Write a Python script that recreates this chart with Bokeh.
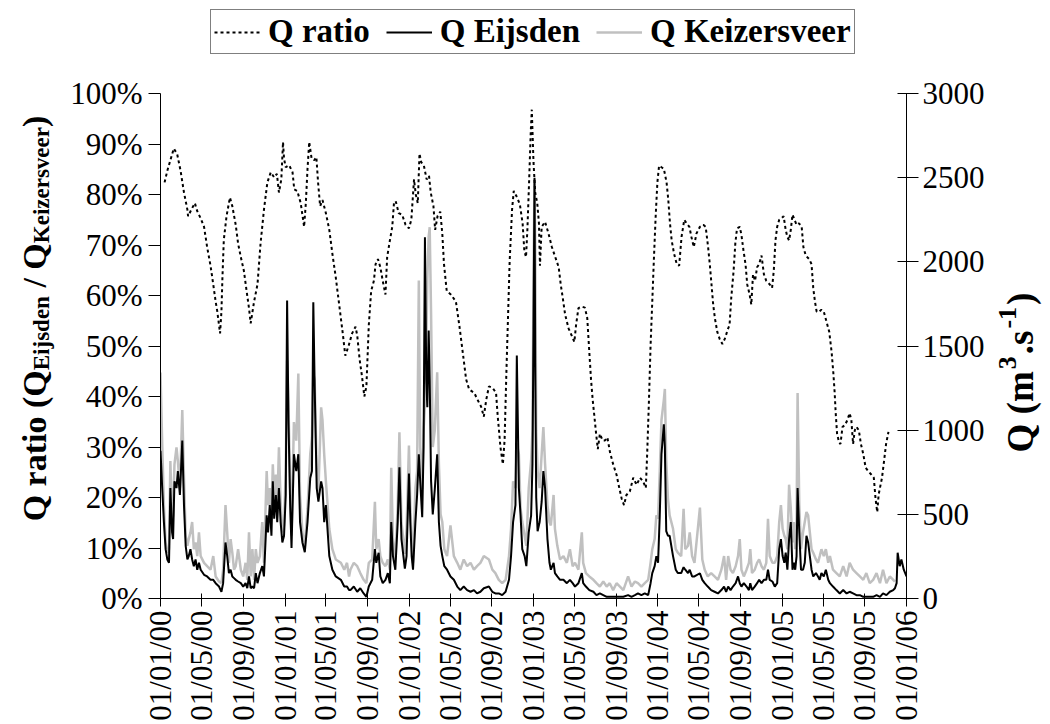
import math
import pandas as pd
from bokeh.plotting import figure
from bokeh.layouts import column, row
from bokeh.models import (Range1d, LinearAxis, FixedTicker, PrintfTickFormatter,
                          Label, Legend, LegendItem)
from bokeh.embed import file_html
from bokeh.resources import INLINE

# ---------------------------------------------------------------- data
# days counted from 01/01/2000
flow_day = [
    0, 5, 10, 15, 20, 25, 29, 34, 37, 41, 47, 51, 57, 64, 69, 74, 79, 83, 88, 93,
    98, 103, 108, 113, 118, 128, 137, 147, 155, 162, 172, 179, 184, 191, 196, 201,
    206, 211, 216, 221, 228, 236, 243, 250, 255, 260, 265, 270, 275, 280, 285, 292,
    299, 304, 312, 316, 321, 326, 330, 334, 339, 343, 348, 353, 358, 363, 368, 372,
    376, 381, 385, 392, 399, 405, 410, 417, 424, 432, 440, 445, 449, 453, 459, 464,
    472, 476, 481, 486, 496, 505, 515, 530, 540, 548, 554, 558, 568, 578, 587, 597,
    605, 612, 622, 630, 634, 641, 646, 653, 661, 668, 674, 678, 683, 690, 697, 702,
    708, 718, 723, 730, 734, 738, 742, 749, 754, 759, 763, 769, 773, 777, 781, 784,
    788, 791, 795, 800, 806, 813, 818, 823, 828, 834, 842, 852, 862, 872, 881, 891,
    901, 911, 921, 930, 940, 950, 965, 975, 984, 994, 1004, 1014, 1024, 1030, 1036,
    1043, 1047, 1053, 1058, 1063, 1070, 1075, 1082, 1089, 1093, 1096, 1099, 1101,
    1104, 1108, 1114, 1120, 1125, 1130, 1137, 1143, 1147, 1155, 1159, 1166, 1174,
    1184, 1194, 1203, 1211, 1218, 1228, 1238, 1242, 1250, 1260, 1272, 1281, 1291,
    1301, 1311, 1320, 1330, 1340, 1350, 1360, 1374, 1384, 1394, 1403, 1413, 1423,
    1433, 1440, 1445, 1452, 1457, 1462, 1467, 1472, 1479, 1482, 1486, 1491, 1496,
    1506, 1514, 1520, 1530, 1537, 1542, 1550, 1555, 1562, 1569, 1585, 1592, 1599,
    1608, 1618, 1628, 1638, 1648, 1656, 1662, 1668, 1675, 1682, 1690, 1697, 1702,
    1707, 1714, 1722, 1729, 1733, 1738, 1746, 1753, 1759, 1766, 1773, 1780, 1785,
    1790, 1798, 1805, 1812, 1818, 1823, 1828, 1833, 1837, 1842, 1847, 1852, 1857,
    1861, 1865, 1869, 1872, 1877, 1882, 1888, 1893, 1898, 1903, 1908, 1913, 1918,
    1926, 1932, 1937, 1942, 1949, 1955, 1962, 1967, 1976, 1986, 1996, 2006, 2016,
    2025, 2035, 2045, 2055, 2065, 2074, 2084, 2094, 2104, 2114, 2123, 2133, 2143,
    2153, 2158, 2163, 2166, 2172, 2177, 2184, 2192,
]

# discharge at Eijsden (m3/s)
q_eijsden = [
    877, 656, 454, 293, 232, 212, 656, 393, 353, 696, 656, 757, 615, 938, 555, 313, 232, 252, 293, 232,
    192, 232, 171, 212, 171, 141, 131, 111, 111, 91, 71, 40, 91, 333, 252, 151,
    171, 131, 121, 111, 101, 91, 71, 91, 61, 131, 61, 71, 61, 151, 91, 151,
    192, 131, 494, 393, 555, 373, 696, 474, 615, 454, 656, 454, 333, 373, 615, 1770,
    1059, 555, 300, 857, 757, 857, 454, 333, 275, 454, 716, 757, 1760, 1261, 656, 575,
    696, 656, 454, 555, 252, 171, 131, 111, 71, 71, 50, 50, 71, 40, 61, 30,
    10, 71, 111, 293, 212, 272, 131, 91, 111, 151, 91, 454, 252, 171, 454, 780,
    353, 178, 252, 742, 454, 252, 171, 454, 615, 857, 700, 483, 900, 2146, 1300, 1136,
    1592, 1300, 700, 500, 650, 857, 454, 313, 252, 192, 171, 131, 111, 71, 50, 71,
    50, 40, 50, 30, 40, 61, 71, 40, 30, 30, 20, 40, 111, 252, 454,
    555, 1443, 656, 494, 293, 252, 192, 393, 494, 800, 1600, 2500, 1400,
    600, 400, 454, 575, 757, 656, 353, 212, 171, 212, 151, 131, 111,
    111, 91, 111, 91, 71, 91, 151, 91, 71, 50, 40, 20, 30,
    20, 10, 10, 10, 10, 10, 10, 20, 10, 20, 30, 20, 30,
    20, 91, 151, 192, 252, 212, 494, 857, 1035, 900, 400, 373, 373,
    252, 171, 151, 151, 186, 171, 151, 171, 131, 131, 150, 111, 91,
    71, 50, 40, 30, 50, 71, 40, 71, 50, 71, 91, 131, 91,
    71, 91, 71, 50, 91, 50, 71, 91, 111, 91, 111, 111, 171,
    111, 101, 71, 91, 293, 353, 252, 212, 272, 171, 353, 454, 171,
    212, 171, 252, 656, 393, 171, 171, 212, 373, 333, 252, 171, 131,
    151, 131, 111, 151, 131, 171, 111, 91, 71, 50, 30, 50, 30,
    40, 30, 20, 20, 10, 10, 10, 10, 20, 10, 30, 20, 40,
    50, 61, 91, 272, 192, 232, 171, 131,
]

# discharge at Keizersveer (m3/s); the record stops a few weeks before the end
NA = float("nan")
q_keizersveer = [
    1342, 918, 555, 333, 272, 293, 817, 454, 494, 797, 898, 817, 656, 1120, 716, 373, 313, 353, 393, 454,
    293, 333, 252, 393, 252, 212, 192, 171, 252, 131, 101, 91, 171, 555, 393, 212,
    353, 272, 171, 192, 293, 171, 131, 212, 111, 393, 131, 293, 111, 293, 212, 252,
    454, 212, 757, 555, 656, 474, 797, 595, 736, 535, 898, 575, 393, 434, 757, 1414,
    1160, 656, 373, 1048, 938, 1336, 615, 393, 313, 535, 857, 958, 1336, 1301, 757, 636,
    1136, 1059, 857, 696, 414, 293, 232, 212, 171, 212, 131, 171, 212, 192, 151, 111,
    91, 212, 232, 575, 293, 353, 252, 212, 192, 232, 171, 777, 353, 232, 555, 988,
    454, 265, 414, 909, 555, 353, 212, 656, 757, 1889, 900, 650, 1000, 1150, 1500, 1900,
    2150, 2206, 1700, 900, 1000, 1344, 800, 500, 454, 293, 252, 434, 252, 212, 171, 232,
    192, 212, 171, 192, 212, 252, 232, 171, 151, 111, 91, 111, 252, 414, 696,
    656, 921, 857, 535, 454, 373, 313, 656, 820, 1000, 1900, 2490, 2100,
    1000, 760, 656, 857, 1019, 800, 555, 454, 434, 615, 414, 313, 232,
    252, 212, 293, 192, 212, 171, 393, 212, 151, 131, 111, 91, 71,
    101, 71, 91, 50, 91, 71, 50, 131, 71, 101, 91, 71, 91,
    111, 212, 293, 353, 494, 474, 757, 1059, 1180, 1245, 820, 595, 494,
    414, 293, 272, 252, 533, 293, 313, 393, 252, 212, 540, 232, 171,
    131, 151, 131, 111, 171, 252, 111, 252, 171, 151, 192, 252, 353,
    171, 131, 171, 212, 293, 151, 171, 212, 232, 192, 171, 212, 474,
    252, 212, 212, 252, 454, 555, 414, 373, 353, 293, 676, 535, 333,
    454, 293, 454, 1220, 555, 293, 393, 454, 514, 494, 393, 293, 272,
    232, 212, 252, 293, 252, 293, 212, 252, 171, 151, 131, 192, 131,
    212, 171, 151, 131, 111, 151, 91, 111, 151, 91, 171, 91, 131,
    111, 100, NA, NA, NA, NA, NA, NA,
]

# ratio Q Eijsden / Q Keizersveer (%)
ratio_day = [
    12, 20, 39, 49, 59, 69, 79, 81, 93, 101, 108, 118, 128, 137, 147, 155, 162, 167,
    172, 175, 179, 182, 186, 194, 204, 211, 221, 228, 236, 245, 253, 260, 265, 275,
    285, 294, 304, 314, 324, 334, 342, 348, 355, 360, 363, 368, 378, 388, 393, 402,
    412, 422, 427, 432, 437, 444, 452, 458, 463, 469, 476, 486, 496, 505, 515, 525,
    535, 543, 553, 563, 573, 578, 585, 592, 599, 605, 612, 619, 627, 632, 639, 646,
    653, 661, 666, 674, 681, 686, 691, 700, 710, 720, 730, 737, 745, 750, 756, 761,
    766, 774, 782, 789, 794, 802, 807, 814, 822, 828, 833, 841, 853, 868, 878, 888,
    898, 907, 922, 932, 942, 950, 957, 965, 976, 986, 991, 999, 1006, 1011, 1016,
    1021, 1026, 1033, 1038, 1048, 1056, 1064, 1069, 1074, 1078, 1083, 1088, 1091,
    1096, 1101, 1107, 1112, 1115, 1120, 1130, 1140, 1150, 1160, 1170, 1176, 1182,
    1189, 1199, 1208, 1216, 1221, 1228, 1238, 1247, 1254, 1260, 1265, 1270, 1275,
    1280, 1285, 1291, 1299, 1306, 1313, 1321, 1330, 1340, 1348, 1355, 1362, 1369,
    1379, 1389, 1399, 1409, 1418, 1426, 1430, 1435, 1440, 1445, 1450, 1455, 1460,
    1465, 1472, 1479, 1487, 1492, 1497, 1502, 1509, 1517, 1524, 1531, 1539, 1546,
    1554, 1560, 1567, 1575, 1585, 1595, 1602, 1609, 1614, 1619, 1624, 1629, 1636,
    1643, 1651, 1658, 1668, 1672, 1677, 1684, 1689, 1694, 1702, 1707, 1713, 1719,
    1724, 1731, 1736, 1741, 1747, 1753, 1759, 1766, 1773, 1780, 1790, 1797, 1802,
    1807, 1812, 1818, 1825, 1831, 1837, 1842, 1847, 1852, 1857, 1863, 1869, 1876,
    1884, 1889, 1896, 1906, 1913, 1918, 1923, 1928, 1935, 1942, 1949, 1957, 1965,
    1972, 1977, 1981, 1984, 1988, 1994, 1998, 2004, 2011, 2018, 2025, 2030, 2035,
    2040, 2045, 2052, 2058, 2065, 2072, 2080, 2089, 2096, 2101, 2106, 2110, 2114,
    2120, 2126, 2132, 2139,
]
q_ratio = [
    82.4, 84.7, 89.1, 88.0, 84.7, 80.4, 77.0, 75.7, 77.3, 78.3, 76.7, 75.3, 73.6, 69.6, 65.9, 62.2, 58.8, 56.8,
    54.1, 52.5, 56.8, 63.6, 71.0, 75.7, 79.4, 77.7, 74.0, 70.3, 67.6, 64.9, 60.9, 57.5, 54.5, 58.8,
    62.2, 70.3, 77.0, 82.4, 84.4, 83.4, 84.1, 80.4, 83.0, 90.4, 87.1, 85.4, 85.8, 84.4, 81.0, 80.7,
    78.3, 73.6, 78.3, 85.1, 90.4, 87.1, 86.8, 87.4, 82.4, 77.7, 78.9, 76.3, 73.0, 68.3, 63.6, 58.2,
    52.8, 48.1, 50.1, 52.5, 53.8, 52.1, 47.4, 44.0, 40.0, 42.0, 54.1, 60.9, 62.9, 66.2, 67.2, 65.6,
    62.9, 60.2, 67.6, 70.9, 73.6, 78.3, 78.7, 76.3, 76.0, 74.0, 73.3, 75.0, 83.0, 80.0, 78.3, 88.1,
    86.4, 85.7, 83.0, 83.7, 80.4, 77.7, 73.0, 75.7, 76.6, 72.3, 66.2, 60.9, 60.2, 58.8, 54.1, 48.8,
    43.4, 41.4, 40.7, 39.3, 38.0, 36.0, 39.3, 42.0, 41.7, 40.7, 36.0, 29.9, 26.6, 31.3, 44.0,
    55.5, 66.9, 77.0, 80.7, 79.4, 78.0, 74.3, 68.9, 67.6, 73.0, 82.4, 92.5, 96.8,
    86.4, 80.4, 78.3, 74.3, 65.9, 73.6, 74.6, 72.3, 69.6, 67.6, 65.6, 62.2, 59.5,
    56.2, 53.5, 52.1, 50.8, 54.1, 57.5, 57.8, 57.6, 55.5, 48.8, 43.4, 39.3, 36.0,
    32.6, 29.6, 32.6, 31.3, 31.3, 31.9, 28.9, 26.6, 24.5, 21.9, 19.8, 18.5, 20.5,
    21.2, 23.9, 22.5, 23.9, 23.2, 21.9, 28.6, 38.7, 50.1, 58.8, 67.6, 75.7, 82.4,
    85.7, 85.4, 85.1, 82.4, 79.0, 74.3, 70.9, 68.3, 66.2, 65.9, 71.6, 75.0, 74.3,
    73.6, 71.6, 69.6, 72.3, 73.6, 74.0, 73.6, 69.6, 66.2, 62.2, 58.2, 55.5, 52.8,
    51.4, 50.4, 51.4, 53.5, 54.1, 59.5, 64.9, 70.3, 73.3, 73.6, 72.0, 68.9, 66.2,
    62.2, 60.2, 58.2, 64.2, 62.9, 65.6, 66.2, 67.9, 64.2, 62.9, 62.2, 61.5, 64.9,
    70.9, 73.6, 75.0, 75.3, 75.7, 73.0, 71.6, 70.9, 73.0, 76.0, 75.0, 74.0, 74.3,
    73.6, 69.6, 67.9, 67.2, 66.2, 61.5, 58.8, 56.8, 56.8, 57.2, 56.8, 54.8, 52.8,
    48.8, 44.7, 40.7, 36.7, 32.6, 30.9, 30.6, 34.0, 34.3, 35.3, 36.7, 35.3, 30.6,
    33.3, 34.0, 33.3, 30.6, 28.6, 25.9, 25.2, 24.5, 23.9, 19.8, 17.1, 20.5, 21.9,
    23.9, 27.2, 30.6, 33.0,
]

# axes
start = pd.Timestamp("2000-01-01")
tick_dates = pd.date_range("2000-01-01", "2006-01-01", freq="4MS")
tick_days = [int((d - start).days) for d in tick_dates]
tick_labels = [d.strftime("%d/%m/%y") for d in tick_dates]
ratio_ticks = list(range(0, 101, 10))
q_ticks = list(range(0, 3001, 500))

SERIF = "Liberation Serif"
TICK_SIZE = "31px"

# page layout: legend strip on top, title strips either side of the chart
W, H = 1050, 724
LEGEND_H = 60
LEFT_W, RIGHT_W = 66, 56
BODY_H = H - LEGEND_H

RATIO_STYLE = dict(line_color="black", line_width=2, line_dash="3 3")
EIJ_STYLE = dict(line_color="black", line_width=2)
KZ_STYLE = dict(line_color="#c0c0c0", line_width=2.5)


def blank(width, height):
    f = figure(width=width, height=height, output_backend="svg", toolbar_location=None,
               x_range=Range1d(0, width), y_range=Range1d(0, height),
               x_axis_type=None, y_axis_type=None, min_border=0, frame_align=False)
    f.outline_line_color = None
    f.background_fill_color = "white"
    f.border_fill_color = "white"
    return f


# ---------------------------------------------------------------- chart
p = figure(width=W - LEFT_W - RIGHT_W, height=BODY_H, output_backend="svg",
           toolbar_location=None, frame_align=False,
           x_range=Range1d(0, tick_days[-1]), y_range=Range1d(0, 100),
           min_border_left=160 - LEFT_W, min_border_right=144 - RIGHT_W,
           min_border_top=93 - LEGEND_H, min_border_bottom=126)
p.outline_line_color = None
p.xgrid.visible = False
p.ygrid.visible = False
p.background_fill_color = "white"
p.border_fill_color = "white"

p.extra_y_ranges = {"q": Range1d(0, 3000)}
right = LinearAxis(y_range_name="q", ticker=FixedTicker(ticks=q_ticks))
p.add_layout(right, "right")

xa = p.xaxis[0]
xa.ticker = FixedTicker(ticks=tick_days)
xa.major_label_overrides = {d: s for d, s in zip(tick_days, tick_labels)}
xa.major_label_orientation = math.pi / 2
xa.major_tick_in = 5
xa.major_tick_out = 8
xa.major_label_standoff = 4

ya = p.yaxis[0]
ya.ticker = FixedTicker(ticks=ratio_ticks)
ya.formatter = PrintfTickFormatter(format="%d%%")
ya.major_tick_in = 0
ya.major_tick_out = 12
ya.major_label_standoff = 6

right.major_tick_in = 9
right.major_tick_out = 12
right.major_label_standoff = 4

for ax in (xa, ya, right):
    ax.axis_line_color = "black"
    ax.axis_line_width = 1
    ax.major_tick_line_color = "black"
    ax.minor_tick_line_color = None
    ax.major_label_text_font = SERIF
    ax.major_label_text_font_size = TICK_SIZE
    ax.major_label_text_color = "black"

p.line(flow_day, q_keizersveer, y_range_name="q", **KZ_STYLE)
p.line(flow_day, q_eijsden, y_range_name="q", **EIJ_STYLE)
p.line(ratio_day, q_ratio, **RATIO_STYLE)

# ---------------------------------------------------------------- legend strip
# hidden copies of the three series supply the legend swatches
lg = blank(W, LEGEND_H)
k_ratio = lg.line(ratio_day, q_ratio, visible=False, **RATIO_STYLE)
k_ej = lg.line(flow_day, q_eijsden, visible=False, **EIJ_STYLE)
k_kz = lg.line(flow_day, q_keizersveer, visible=False, **KZ_STYLE)
legend = Legend(items=[LegendItem(label="Q ratio", renderers=[k_ratio]),
                       LegendItem(label="Q Eijsden", renderers=[k_ej]),
                       LegendItem(label="Q Keizersveer", renderers=[k_kz])],
                orientation="horizontal", location=(210, 6),
                glyph_width=46, glyph_height=20, label_standoff=8, spacing=16,
                padding=3, margin=0, inactive_fill_alpha=0.0,
                label_text_font=SERIF, label_text_font_style="bold",
                label_text_font_size="33px", label_text_color="black",
                border_line_color="black", border_line_width=1,
                background_fill_alpha=1.0)
lg.add_layout(legend)

# ---------------------------------------------------------------- axis titles
# advance widths (1/1000 em) of the bold serif face, used to chain text runs
ADV = {"Q": 778, " ": 250, "r": 444, "a": 500, "t": 333, "i": 278, "o": 500,
       "(": 333, ")": 333, "/": 278, "E": 667, "j": 333, "s": 389, "d": 556,
       "e": 444, "n": 556, "K": 778, "z": 444, "v": 500, "m": 833, ".": 250,
       "3": 500, "-": 333, "1": 500}


def run_width(txt, size):
    return sum(ADV[c] for c in txt) * size / 1000.0


def vertical_title(fig, runs, x0, y_mid, gap=0.0):
    """Chain text runs bottom-to-top; each run is (text, size, sideways shift)."""
    total = sum(run_width(t, s) for t, s, _ in runs) + gap * (len(runs) - 1)
    y = y_mid - total / 2
    for txt, size, shift in runs:
        body = txt.strip(" ")
        lead = run_width(txt[:len(txt) - len(txt.lstrip(" "))], size)
        fig.add_layout(Label(x=x0 + shift, y=y + lead, x_units="screen", y_units="screen",
                             text=body, angle=math.pi / 2, text_font=SERIF,
                             text_font_style="bold", text_font_size=f"{size}px",
                             text_color="black", text_align="left",
                             text_baseline="alphabetic"))
        y += run_width(txt, size) + gap


BIG, SMALL = 34, 23
left_fig = blank(LEFT_W, BODY_H)
vertical_title(left_fig,
               [("Q ratio (Q", BIG, 0), ("Eijsden", SMALL, 7), (" / Q", BIG, 0),
                ("Keizersveer", SMALL, 7), (")", BIG, 0)],
               x0=34, y_mid=BODY_H - (318 - LEGEND_H))

right_fig = blank(RIGHT_W, BODY_H)
vertical_title(right_fig,
               [("Q (m", 37, 0), ("3", 26, -13), (".s", 37, 0),
                ("-1", 26, -13), (")", 37, 0)],
               x0=26, y_mid=BODY_H - (372 - LEGEND_H), gap=2)

page = column(lg, row(left_fig, p, right_fig, spacing=0), spacing=0)
open("out.html", "w").write(file_html(page, INLINE))
